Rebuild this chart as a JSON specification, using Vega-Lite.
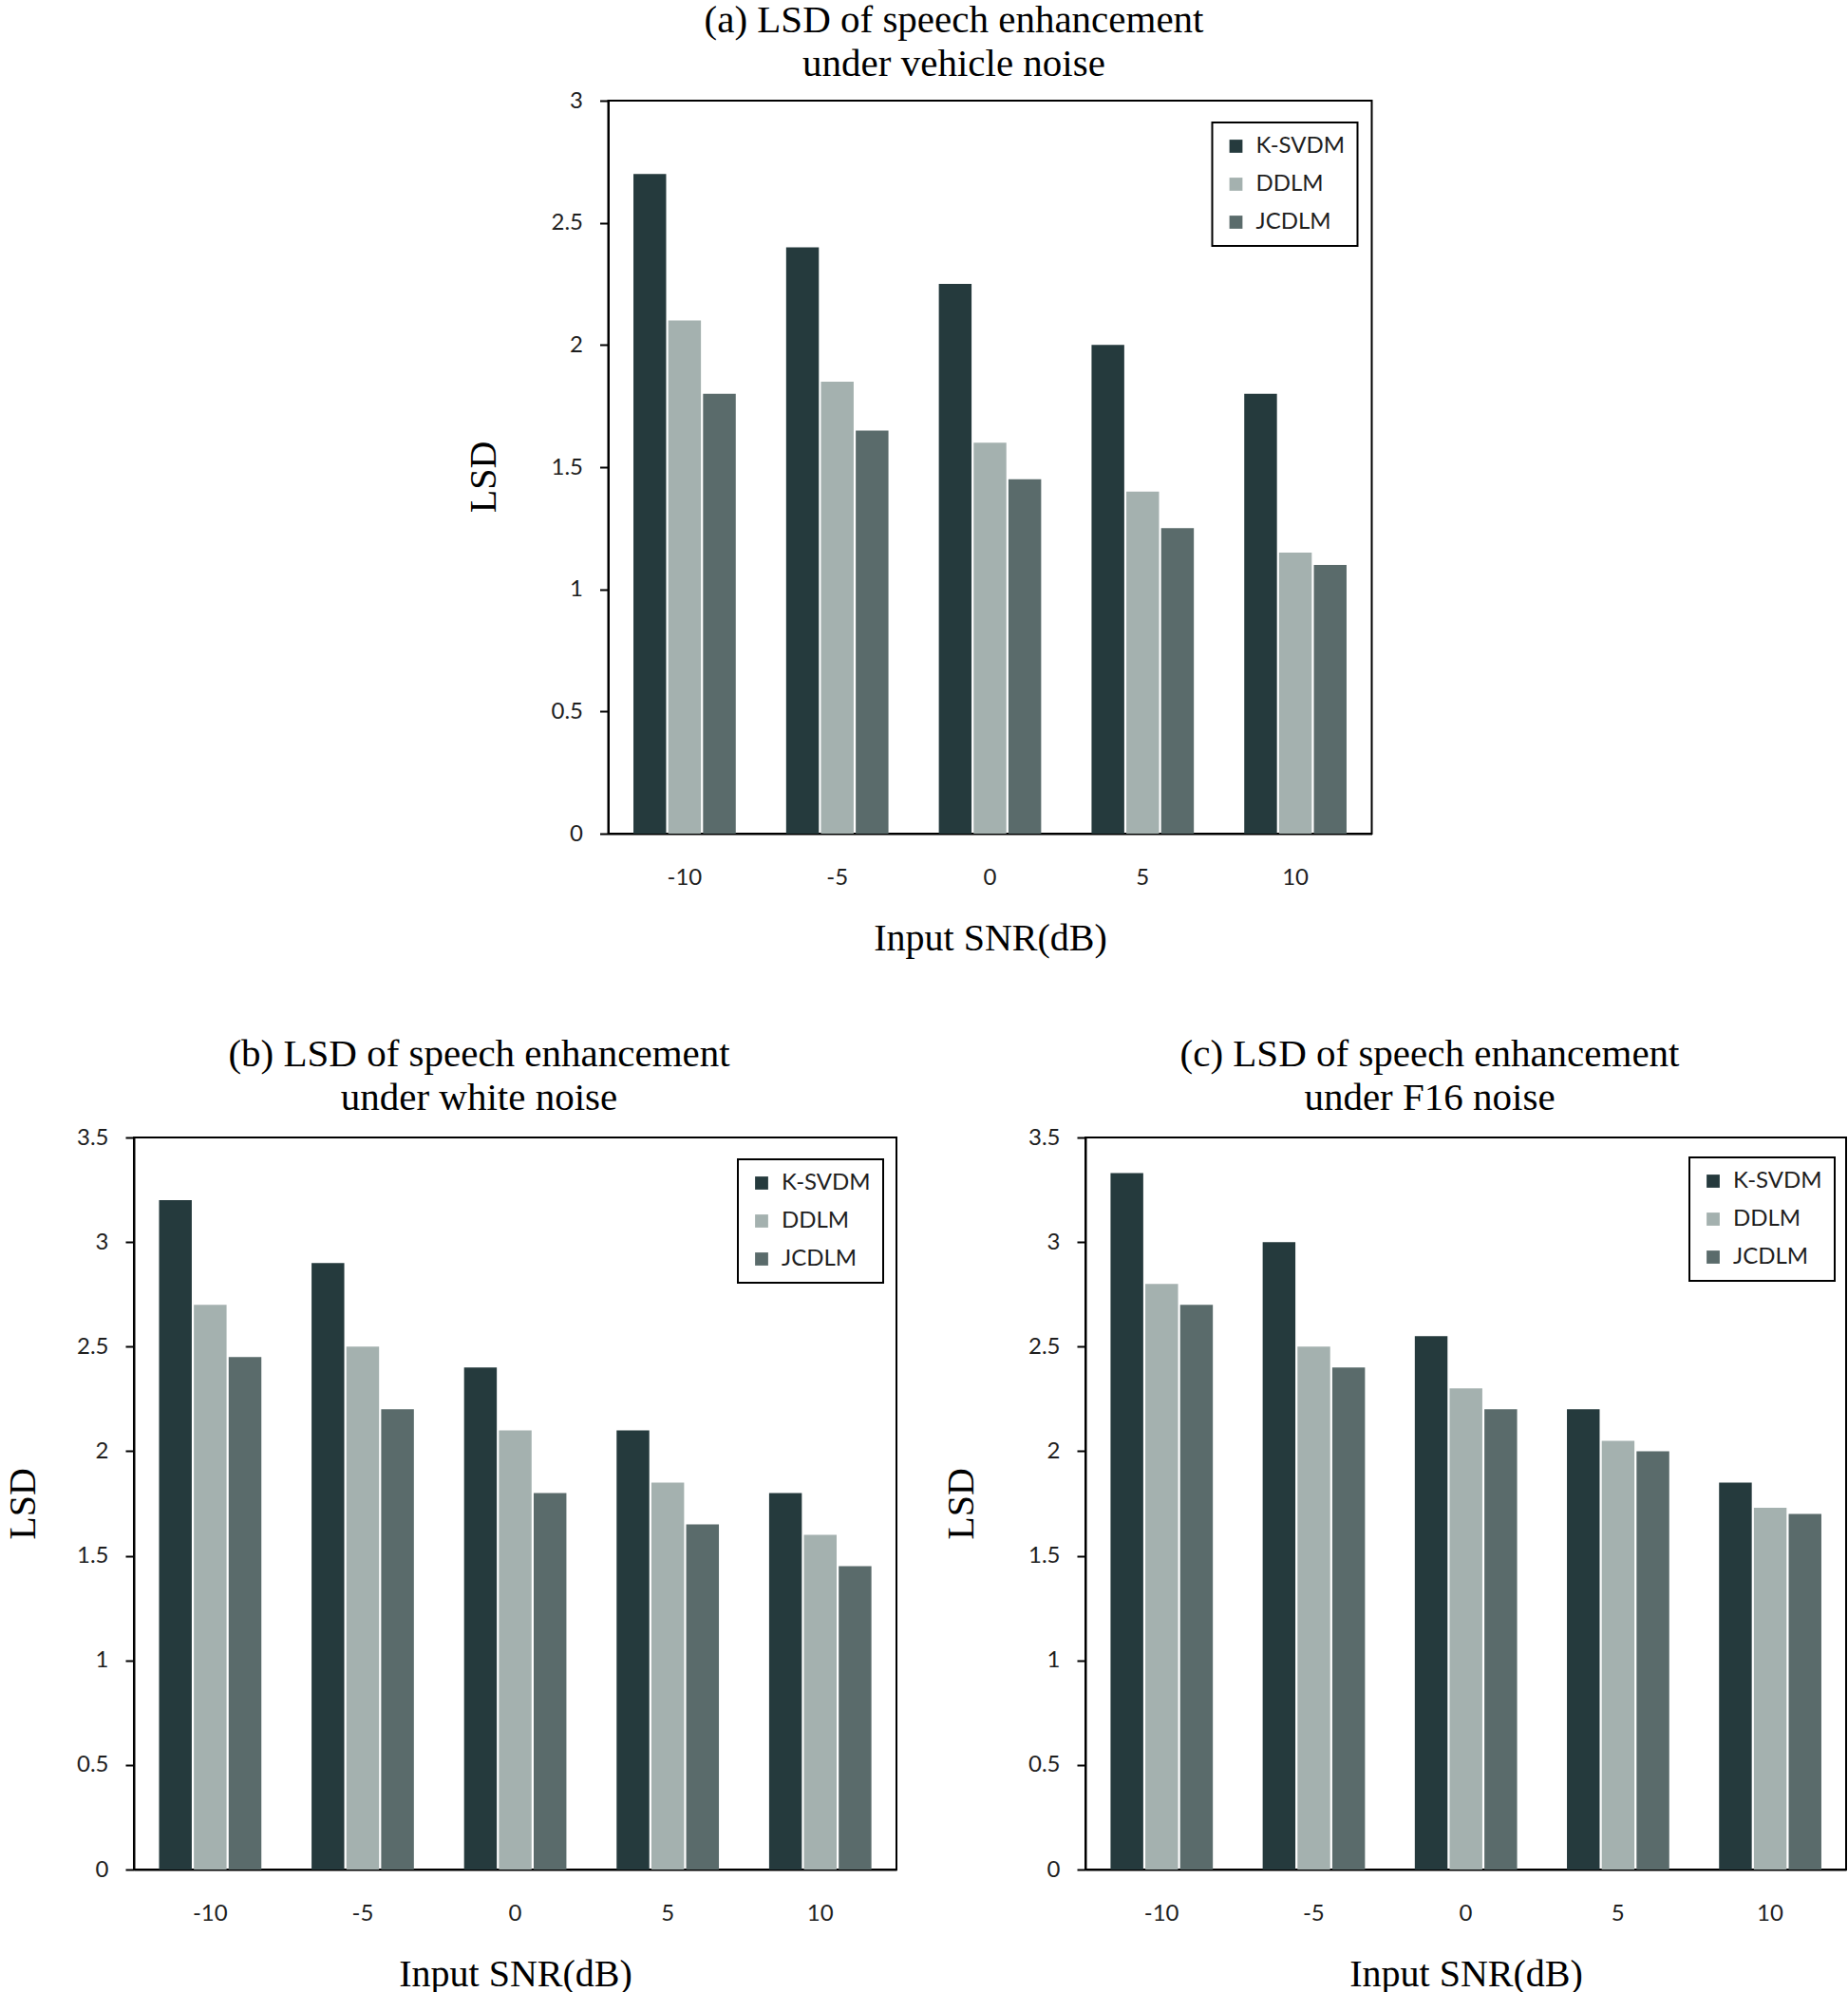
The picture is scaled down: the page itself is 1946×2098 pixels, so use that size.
{
  "$schema": "https://vega.github.io/schema/vega-lite/v6.json",
  "padding": {"left": 3, "top": 0, "right": 0, "bottom": 0},
  "background": "white",
  "datasets": {
    "vehicle": [
      {"snr": "-10", "method": "K-SVDM", "lsd": 2.7},
      {"snr": "-10", "method": "DDLM", "lsd": 2.1},
      {"snr": "-10", "method": "JCDLM", "lsd": 1.8},
      {"snr": "-5", "method": "K-SVDM", "lsd": 2.4},
      {"snr": "-5", "method": "DDLM", "lsd": 1.85},
      {"snr": "-5", "method": "JCDLM", "lsd": 1.65},
      {"snr": "0", "method": "K-SVDM", "lsd": 2.25},
      {"snr": "0", "method": "DDLM", "lsd": 1.6},
      {"snr": "0", "method": "JCDLM", "lsd": 1.45},
      {"snr": "5", "method": "K-SVDM", "lsd": 2.0},
      {"snr": "5", "method": "DDLM", "lsd": 1.4},
      {"snr": "5", "method": "JCDLM", "lsd": 1.25},
      {"snr": "10", "method": "K-SVDM", "lsd": 1.8},
      {"snr": "10", "method": "DDLM", "lsd": 1.15},
      {"snr": "10", "method": "JCDLM", "lsd": 1.1}
    ],
    "white": [
      {"snr": "-10", "method": "K-SVDM", "lsd": 3.2},
      {"snr": "-10", "method": "DDLM", "lsd": 2.7},
      {"snr": "-10", "method": "JCDLM", "lsd": 2.45},
      {"snr": "-5", "method": "K-SVDM", "lsd": 2.9},
      {"snr": "-5", "method": "DDLM", "lsd": 2.5},
      {"snr": "-5", "method": "JCDLM", "lsd": 2.2},
      {"snr": "0", "method": "K-SVDM", "lsd": 2.4},
      {"snr": "0", "method": "DDLM", "lsd": 2.1},
      {"snr": "0", "method": "JCDLM", "lsd": 1.8},
      {"snr": "5", "method": "K-SVDM", "lsd": 2.1},
      {"snr": "5", "method": "DDLM", "lsd": 1.85},
      {"snr": "5", "method": "JCDLM", "lsd": 1.65},
      {"snr": "10", "method": "K-SVDM", "lsd": 1.8},
      {"snr": "10", "method": "DDLM", "lsd": 1.6},
      {"snr": "10", "method": "JCDLM", "lsd": 1.45}
    ],
    "f16": [
      {"snr": "-10", "method": "K-SVDM", "lsd": 3.33},
      {"snr": "-10", "method": "DDLM", "lsd": 2.8},
      {"snr": "-10", "method": "JCDLM", "lsd": 2.7},
      {"snr": "-5", "method": "K-SVDM", "lsd": 3.0},
      {"snr": "-5", "method": "DDLM", "lsd": 2.5},
      {"snr": "-5", "method": "JCDLM", "lsd": 2.4},
      {"snr": "0", "method": "K-SVDM", "lsd": 2.55},
      {"snr": "0", "method": "DDLM", "lsd": 2.3},
      {"snr": "0", "method": "JCDLM", "lsd": 2.2},
      {"snr": "5", "method": "K-SVDM", "lsd": 2.2},
      {"snr": "5", "method": "DDLM", "lsd": 2.05},
      {"snr": "5", "method": "JCDLM", "lsd": 2.0},
      {"snr": "10", "method": "K-SVDM", "lsd": 1.85},
      {"snr": "10", "method": "DDLM", "lsd": 1.73},
      {"snr": "10", "method": "JCDLM", "lsd": 1.7}
    ]
  },
  "config": {
    "view": {"stroke": "black", "strokeWidth": 2},
    "font": "Liberation Serif",
    "title": {"font": "Liberation Serif", "fontSize": 41, "fontWeight": "normal", "lineHeight": 46, "offset": 5, "dx": -38, "color": "black", "anchor": "middle"},
    "axis": {"titleFont": "Liberation Serif", "titleFontSize": 40, "titleFontWeight": "normal", "titleColor": "black", "labelFont": "Lato", "labelFontSize": 24, "labelColor": "#1e1e1e", "domainColor": "black", "domainWidth": 2, "tickColor": "black", "tickWidth": 2, "grid": false},
    "axisX": {"ticks": false, "labelPadding": 34, "titlePadding": 32, "labelAngle": 0},
    "axisY": {"tickSize": 9, "labelPadding": 18, "titlePadding": 50, "format": "~g"},
    "legend": {"title": null, "strokeColor": "black", "strokeWidth": 2, "padding": 13, "rowPadding": 16, "symbolType": "square", "symbolSize": 190, "symbolStrokeWidth": 0, "labelFont": "Lato", "labelFontSize": 24, "labelColor": "#1e1e1e", "labelOffset": 9, "fillColor": "white"}
  },
  "center": true,
  "spacing": 80,
  "resolve": {"scale": {"color": "independent"}, "legend": {"color": "independent"}},
  "vconcat": [
    {
      "width": 804,
      "height": 772,
      "title": {"text": ["(a) LSD of speech enhancement", "under vehicle noise"]},
      "data": {"name": "vehicle"},
      "mark": {"type": "bar"},
      "encoding": {
        "x": {"field": "snr", "type": "ordinal", "sort": ["-10", "-5", "0", "5", "10"], "scale": {"paddingInner": 0.33, "paddingOuter": 0.165}, "title": "Input SNR(dB)"},
        "xOffset": {"field": "method", "type": "nominal", "sort": ["K-SVDM", "DDLM", "JCDLM"], "scale": {"paddingInner": 0.06}},
        "y": {"field": "lsd", "type": "quantitative", "scale": {"domain": [0, 3]}, "axis": {"values": [0, 0.5, 1, 1.5, 2, 2.5, 3], "titleX": -111, "titleY": 396}, "title": "LSD"},
        "color": {"field": "method", "type": "nominal", "sort": ["K-SVDM", "DDLM", "JCDLM"], "scale": {"domain": ["K-SVDM", "DDLM", "JCDLM"], "range": ["#253a3d", "#a4b1af", "#5a6b6b"]}, "legend": {"orient": "none", "legendX": 636, "legendY": 23}}
      }
    },
    {
      "spacing": 46,
      "resolve": {"scale": {"color": "independent"}, "legend": {"color": "independent"}},
      "hconcat": [
        {
          "width": 803,
          "height": 771,
          "title": {"text": ["(b) LSD of speech enhancement", "under white noise"], "offset": 8},
          "data": {"name": "white"},
          "mark": {"type": "bar"},
          "encoding": {
            "x": {"field": "snr", "type": "ordinal", "sort": ["-10", "-5", "0", "5", "10"], "scale": {"paddingInner": 0.33, "paddingOuter": 0.165}, "title": "Input SNR(dB)"},
            "xOffset": {"field": "method", "type": "nominal", "sort": ["K-SVDM", "DDLM", "JCDLM"], "scale": {"paddingInner": 0.06}},
            "y": {"field": "lsd", "type": "quantitative", "scale": {"domain": [0, 3.5]}, "axis": {"values": [0, 0.5, 1, 1.5, 2, 2.5, 3, 3.5], "titlePadding": 36}, "title": "LSD"},
            "color": {"field": "method", "type": "nominal", "sort": ["K-SVDM", "DDLM", "JCDLM"], "scale": {"domain": ["K-SVDM", "DDLM", "JCDLM"], "range": ["#253a3d", "#a4b1af", "#5a6b6b"]}, "legend": {"orient": "none", "legendX": 636, "legendY": 23}}
          }
        },
        {
          "width": 801,
          "height": 771,
          "title": {"text": ["(c) LSD of speech enhancement", "under F16 noise"], "offset": 8},
          "data": {"name": "f16"},
          "mark": {"type": "bar"},
          "encoding": {
            "x": {"field": "snr", "type": "ordinal", "sort": ["-10", "-5", "0", "5", "10"], "scale": {"paddingInner": 0.33, "paddingOuter": 0.165}, "title": "Input SNR(dB)"},
            "xOffset": {"field": "method", "type": "nominal", "sort": ["K-SVDM", "DDLM", "JCDLM"], "scale": {"paddingInner": 0.06}},
            "y": {"field": "lsd", "type": "quantitative", "scale": {"domain": [0, 3.5]}, "axis": {"values": [0, 0.5, 1, 1.5, 2, 2.5, 3, 3.5]}, "title": "LSD"},
            "color": {"field": "method", "type": "nominal", "sort": ["K-SVDM", "DDLM", "JCDLM"], "scale": {"domain": ["K-SVDM", "DDLM", "JCDLM"], "range": ["#253a3d", "#a4b1af", "#5a6b6b"]}, "legend": {"orient": "none", "legendX": 636, "legendY": 21}}
          }
        }
      ]
    }
  ]
}
